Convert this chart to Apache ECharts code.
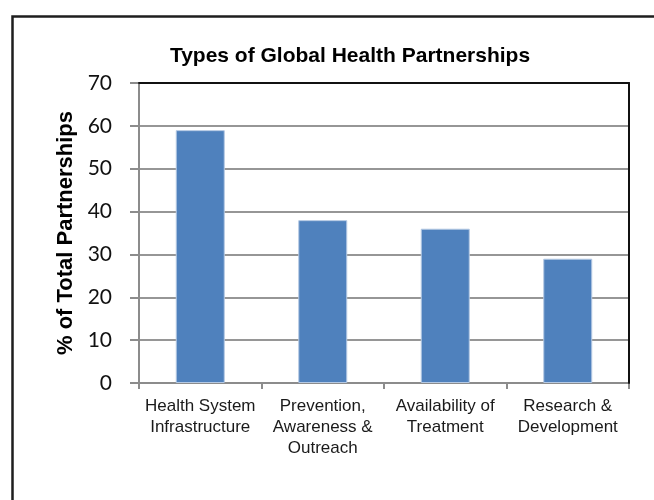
<!DOCTYPE html>
<html>
<head>
<meta charset="utf-8">
<script src="https://cdn.jsdelivr.net/npm/echarts@6/dist/echarts.min.js"></script>
<style>
html,body{margin:0;padding:0;background:#fff;}
#chart{width:654px;height:500px;}
</style>
</head>
<body>
<div id="chart"></div>
<script>
var titleText = 'Types of Global Health Partnerships';
var yAxisTitle = '% of Total Partnerships';
var categories = ['Health System\nInfrastructure', 'Prevention,\nAwareness &\nOutreach', 'Availability of\nTreatment', 'Research &\nDevelopment'];
var values = [59, 38, 36, 29];
var yMin = 0, yMax = 70, yStep = 10;

var chart = echarts.init(document.getElementById('chart'), null, {renderer: 'canvas'});
chart.setOption({
  animation: false,
  backgroundColor: '#fff',
  title: {
    text: titleText,
    left: 345, top: 41,
    textAlign: 'center',
    textStyle: {fontFamily: 'Liberation Sans, Arial', fontWeight: 'bold', fontSize: 21, color: '#000'}
  },
  graphic: [{
    type: 'rect', left: 10, top: 14, silent: true,
    shape: {width: 700, height: 600},
    style: {fill: 'none', stroke: '#1e1e1e', lineWidth: 2.5}
  }],
  grid: {left: 139, right: 25, top: 83, bottom: 117, containLabel: false},
  xAxis: [{
    type: 'category', data: categories, position: 'bottom',
    axisLine: {lineStyle: {color: '#8c8c8c', width: 2}},
    axisTick: {show: true, length: 6, lineStyle: {color: '#8c8c8c', width: 2}},
    axisLabel: {margin: 13, fontFamily: 'Liberation Sans, Arial', fontSize: 17, color: '#1a1a1a', lineHeight: 21, interval: 0}
  }, {
    type: 'category', data: categories, position: 'top', z: 5,
    axisLine: {show: true, onZero: false, lineStyle: {color: '#111', width: 2}},
    axisTick: {show: false}, axisLabel: {show: false}
  }],
  yAxis: [{
    type: 'value', min: yMin, max: yMax, interval: yStep,
    name: yAxisTitle, nameLocation: 'middle', nameGap: 62, nameRotate: 90,
    nameTextStyle: {fontFamily: 'Liberation Sans, Arial', fontWeight: 'bold', fontSize: 22, color: '#000'},
    axisLine: {show: true, lineStyle: {color: '#8c8c8c', width: 2}},
    axisTick: {show: true, length: 9, lineStyle: {color: '#8c8c8c', width: 2}},
    axisLabel: {margin: 27, fontFamily: 'Lato', fontSize: 21, color: '#111'},
    splitLine: {show: true, lineStyle: {color: '#969696', width: 2}}
  }, {
    type: 'value', min: yMin, max: yMax, interval: yStep, position: 'right', z: 5,
    axisLine: {show: true, onZero: false, lineStyle: {color: '#111', width: 2}},
    axisTick: {show: false}, axisLabel: {show: false}, splitLine: {show: false}
  }],
  series: [{
    type: 'bar', data: values, barWidth: '40%', xAxisIndex: 0, yAxisIndex: 0,
    itemStyle: {color: '#4F81BD', borderColor: '#b5c9e3', borderWidth: 1}
  }]
});
</script>
</body>
</html>
